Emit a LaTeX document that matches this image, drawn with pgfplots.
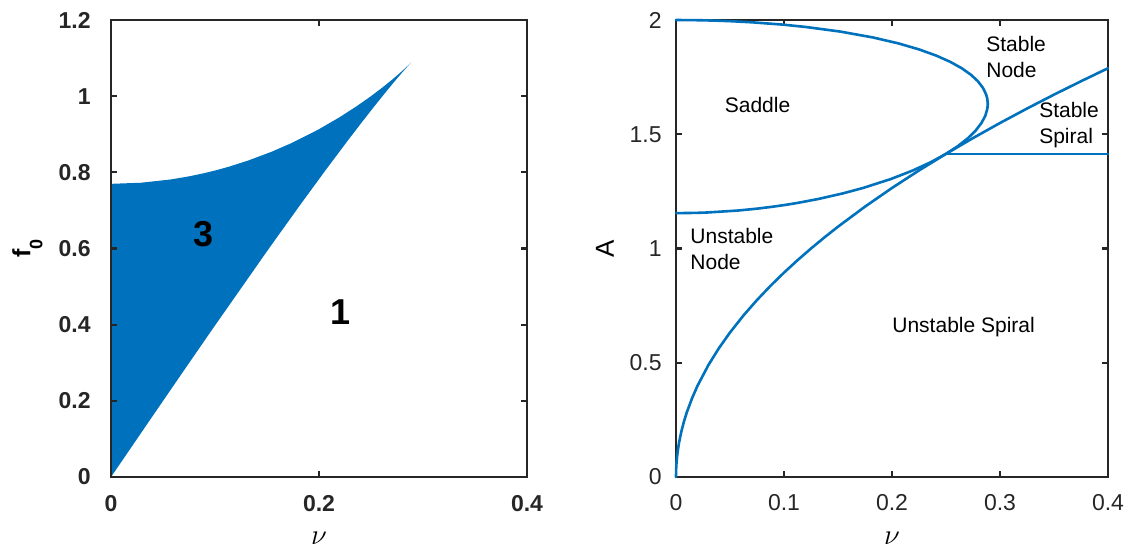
\documentclass[border=0pt]{standalone}
\usepackage{fontspec}
\setmainfont{Liberation Sans}
\usepackage{pgfplots}
\pgfplotsset{compat=1.18}
\definecolor{mblue}{RGB}{0,114,189}
\definecolor{axc}{RGB}{38,38,38}
\begin{document}
\begin{tikzpicture}
\useasboundingbox (0,0) rectangle (565pt,276pt);
\pgfplotsset{
  common/.style={
    scale only axis, xmin=0, xmax=0.4, ymin=0,
    axis line style={line width=1.2pt, draw=axc},
    every tick/.style={line width=1.1pt, draw=axc},
    major tick length=3pt, tick align=inside,
    /pgf/number format/assume math mode=true,
    ticklabel style={text=axc, inner sep=0pt},
  },
  curve/.style={draw=mblue, no markers, line width=1.3pt, line join=round, line cap=round},
}
% ---------------- left panel ----------------
\begin{axis}[common,
  at={(55.5pt,37.5pt)}, anchor=south west,
  width=208pt, height=228.5pt,
  ymax=1.2, axis on top,
  xtick={0,0.2,0.4}, ytick={0,0.2,0.4,0.6,0.8,1,1.2},
  ticklabel style={font=\fontsize{11.5}{13}\selectfont\bfseries},
  xticklabel style={anchor=center, yshift=-13.5pt},
  yticklabel style={anchor=east, xshift=-10pt},
  xlabel={$\nu$},
  xlabel style={at={([yshift=-30.5pt]axis description cs:0.5,0)}, anchor=center, font=\fontsize{15}{18}\selectfont, inner sep=0pt},
  ylabel={\bfseries f\raisebox{-6pt}{\fontsize{9}{9}\selectfont 0}},
  ylabel style={at={([xshift=-41.75pt]axis description cs:0,0.5)}, anchor=center, font=\fontsize{12.5}{14}\selectfont, inner sep=0pt},
]
\addplot[fill=mblue, draw=none, no markers] coordinates {
(0,0)
(0.02234,0.08935)
(0.03864,0.15446)
(0.07018,0.28002)
(0.09849,0.39200)
(0.15207,0.60083)
(0.18243,0.71650)
(0.20616,0.80498)
(0.22535,0.87500)
(0.24109,0.93113)
(0.25403,0.97616)
(0.26458,1.01193)
(0.27300,1.03977)
(0.27951,1.06066)
(0.28422,1.07535)
(0.28723,1.08444)
(0.28824,1.08740)
(0.28868,1.08866)
(0.28832,1.08766)
(0.28641,1.08253)
(0.28284,1.07331)
(0.27754,1.06025)
(0.27042,1.04355)
(0.26131,1.02341)
(0.25000,1.00000)
(0.23618,0.97346)
(0.21937,0.94393)
(0.19882,0.91152)
(0.17321,0.87636)
(0.15437,0.85397)
(0.13162,0.83065)
(0.11314,0.81459)
(0.10238,0.80640)
(0.09014,0.79812)
(0.07570,0.78974)
(0.05745,0.78126)
(0.02883,0.77268)
(0,0.76980)
} -- cycle;
\node[font=\fontsize{18}{20}\selectfont\bfseries, inner sep=0pt, anchor=center] at (axis cs:0.0894,0.638) {3};
\node[font=\fontsize{18}{20}\selectfont\bfseries, inner sep=0pt, anchor=center] at (axis cs:0.221,0.432) {1};
\end{axis}
% ---------------- right panel ----------------
\begin{axis}[common,
  at={(338pt,37.5pt)}, anchor=south west,
  width=216pt, height=228.5pt,
  ymax=2, clip=false,
  xtick={0,0.1,0.2,0.3,0.4}, ytick={0,0.5,1,1.5,2},
  ticklabel style={font=\fontsize{11.5}{13}\selectfont},
  xticklabel style={anchor=center, yshift=-12.75pt},
  yticklabel style={anchor=east, xshift=-7pt},
  xlabel={$\nu$},
  xlabel style={at={([yshift=-30.5pt]axis description cs:0.5,0)}, anchor=center, font=\fontsize{15}{18}\selectfont, inner sep=0pt},
  ylabel={A},
  ylabel style={at={([xshift=-35.5pt]axis description cs:0,0.5)}, anchor=center, font=\fontsize{13}{15}\selectfont, inner sep=0pt},
]
\addplot[curve] coordinates {
(0,2)
(0.02234,1.99900)
(0.03864,1.99700)
(0.04981,1.99499)
(0.07018,1.98997)
(0.09849,1.97990)
(0.11969,1.96977)
(0.15207,1.94936)
(0.18243,1.92354)
(0.20616,1.89737)
(0.22535,1.87083)
(0.24109,1.84391)
(0.25403,1.81659)
(0.26458,1.78885)
(0.27300,1.76068)
(0.27951,1.73205)
(0.28422,1.70294)
(0.28723,1.67332)
(0.28824,1.65530)
(0.28868,1.63299)
(0.28832,1.61245)
(0.28641,1.58114)
(0.28284,1.54919)
(0.27754,1.51658)
(0.27042,1.48324)
(0.26131,1.44914)
(0.25000,1.41421)
(0.23618,1.37840)
(0.21937,1.34164)
(0.19882,1.30384)
(0.17321,1.26491)
(0.15437,1.24097)
(0.13162,1.21655)
(0.11314,1.20000)
(0.10238,1.19164)
(0.09014,1.18322)
(0.07570,1.17473)
(0.05745,1.16619)
(0.02883,1.15758)
(0.01825,1.15586)
(0,1.15470)
};
\addplot[curve] coordinates {
(0,0)
(0.0001,0.02828)
(0.0002,0.04000)
(0.0005,0.06325)
(0.001,0.08944)
(0.002,0.12649)
(0.003,0.15492)
(0.005,0.20000)
(0.0075,0.24495)
(0.01,0.28284)
(0.015,0.34641)
(0.02,0.40000)
(0.03,0.48990)
(0.04,0.56569)
(0.05,0.63246)
(0.0625,0.70711)
(0.075,0.77460)
(0.0875,0.83666)
(0.1,0.89443)
(0.1125,0.94868)
(0.125,1.00000)
(0.1375,1.04881)
(0.15,1.09545)
(0.175,1.18322)
(0.2,1.26491)
(0.225,1.34164)
(0.25,1.41421)
(0.275,1.48324)
(0.3,1.54919)
(0.325,1.61245)
(0.35,1.67332)
(0.375,1.73205)
(0.4,1.78885)
};
\addplot[curve] coordinates {(0.25,1.41421) (0.4,1.41421)};
\node[font=\fontsize{10.5}{13}\selectfont, inner sep=0pt, anchor=center] at (axis cs:0.0755,1.626) {Saddle};
\node[font=\fontsize{10.5}{13}\selectfont, inner sep=0pt, anchor=west, align=left] at (axis cs:0.287,1.836) {Stable\\Node};
\node[font=\fontsize{10.5}{13}\selectfont, inner sep=0pt, anchor=west, align=left] at (axis cs:0.336,1.540) {Stable\\Spiral};
\node[font=\fontsize{10.5}{13}\selectfont, inner sep=0pt, anchor=west, align=left] at (axis cs:0.013,0.998) {Unstable\\Node};
\node[font=\fontsize{10.5}{13}\selectfont, inner sep=0pt, anchor=west] at (axis cs:0.200,0.655) {Unstable Spiral};
\end{axis}
\end{tikzpicture}
\end{document}
